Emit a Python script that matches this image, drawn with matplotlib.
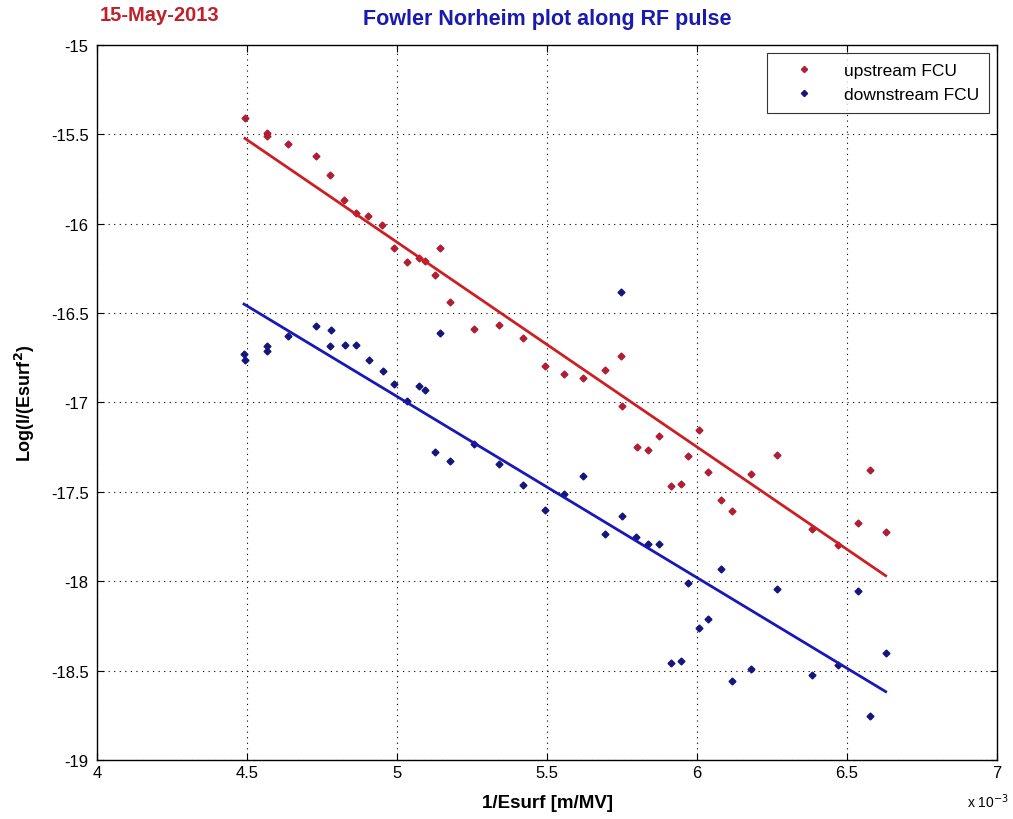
import numpy as np
import matplotlib.pyplot as plt

plt.rcParams['font.family'] = ['Liberation Sans', 'DejaVu Sans']

# 1/Esurf in units of 1e-3 m/MV, log of I/Esurf^2
up_x = [4.493, 4.566, 4.566, 4.637, 4.729, 4.777, 4.824, 4.863, 4.902, 4.949,
        4.989, 5.032, 5.074, 5.093, 5.127, 5.143, 5.177, 5.257, 5.341, 5.419,
        5.494, 5.556, 5.621, 5.694, 5.748, 5.751, 5.799, 5.836, 5.873, 5.914,
        5.947, 5.971, 6.007, 6.036, 6.079, 6.117, 6.180, 6.266, 6.383, 6.471,
        6.537, 6.578, 6.629]
up_y = [-15.410, -15.490, -15.510, -15.556, -15.620, -15.726, -15.867, -15.940, -15.958, -16.010,
        -16.137, -16.216, -16.190, -16.210, -16.285, -16.137, -16.440, -16.589, -16.566, -16.637,
        -16.794, -16.840, -16.865, -16.816, -16.738, -17.021, -17.249, -17.266, -17.186, -17.469,
        -17.454, -17.297, -17.156, -17.390, -17.547, -17.610, -17.398, -17.296, -17.710, -17.795,
        -17.672, -17.380, -17.726]

down_x = [4.490, 4.493, 4.566, 4.566, 4.637, 4.729, 4.777, 4.780, 4.827, 4.863,
          4.907, 4.953, 4.990, 5.034, 5.074, 5.093, 5.127, 5.143, 5.177, 5.257,
          5.341, 5.419, 5.494, 5.556, 5.621, 5.694, 5.748, 5.751, 5.797, 5.836,
          5.873, 5.913, 5.946, 5.971, 6.005, 6.036, 6.079, 6.117, 6.180, 6.266,
          6.383, 6.471, 6.537, 6.578, 6.629]
down_y = [-16.729, -16.762, -16.686, -16.710, -16.630, -16.574, -16.686, -16.593, -16.677, -16.677,
          -16.762, -16.826, -16.897, -16.990, -16.910, -16.928, -17.279, -16.613, -17.329, -17.232,
          -17.344, -17.460, -17.601, -17.512, -17.413, -17.736, -16.384, -17.633, -17.752, -17.792,
          -17.792, -18.456, -18.448, -18.010, -18.262, -18.211, -17.931, -18.560, -18.489, -18.042,
          -18.526, -18.467, -18.056, -18.754, -18.401]

fig = plt.figure(figsize=(10.13, 8.2), dpi=100)
ax = fig.add_axes([0.0958, 0.072, 0.8884, 0.872])

ax.plot(up_x, up_y, 'D', color='#b01e32', markersize=3.5, label='upstream FCU')
ax.plot(down_x, down_y, 'D', color='#16167a', markersize=3.5, label='downstream FCU')

# straight line fits over the measured range
for xs, ys, c in [(up_x, up_y, '#cc1f24'), (down_x, down_y, '#1818b8')]:
    p = np.polyfit(xs, ys, 1)
    xx = np.array([min(xs), max(xs)])
    ax.plot(xx, np.polyval(p, xx), '-', color=c, linewidth=2)

ax.set_xlim(4, 7)
ax.set_ylim(-19, -15)
ax.set_xticks([4, 4.5, 5, 5.5, 6, 6.5, 7])
ax.set_xticklabels(['4', '4.5', '5', '5.5', '6', '6.5', '7'])
ax.set_yticks(np.arange(-19, -14.9, 0.5))
ax.set_yticklabels(['-19', '-18.5', '-18', '-17.5', '-17', '-16.5', '-16', '-15.5', '-15'])
ax.tick_params(direction='in', top=True, right=True, length=5, labelsize=12, width=0.8)
ax.tick_params(axis='y', pad=6)
ax.grid(True, color='black', linestyle=(0, (1, 4)), linewidth=0.8)
for s in ax.spines.values():
    s.set_linewidth(1)

ax.set_xlabel('1/Esurf [m/MV]', fontsize=13.5, fontweight='bold', labelpad=10)
ax.set_ylabel('Log(I/(Esurf$^\\mathbf{2}$)', fontsize=13, fontweight='bold', labelpad=10)
ax.set_title('Fowler Norheim plot along RF pulse', fontsize=15.5, fontweight='bold',
             color='#1a1ab0', pad=15)
fig.text(0.098, 0.981, '15-May-2013', color='#c0202a', fontsize=14.5, fontweight='bold',
         va='center')
fig.text(0.955, 0.022, 'x 10$^{-3}$', fontsize=10, va='center')

leg = ax.legend(loc='upper right', fontsize=12.5, frameon=True, fancybox=False,
                edgecolor='black', handletextpad=0.8, borderpad=0.6, labelspacing=0.5,
                markerscale=0.9, handlelength=3.0, borderaxespad=0.45)
leg.get_frame().set_linewidth(0.8)

fig.savefig('out.png', dpi=100)
